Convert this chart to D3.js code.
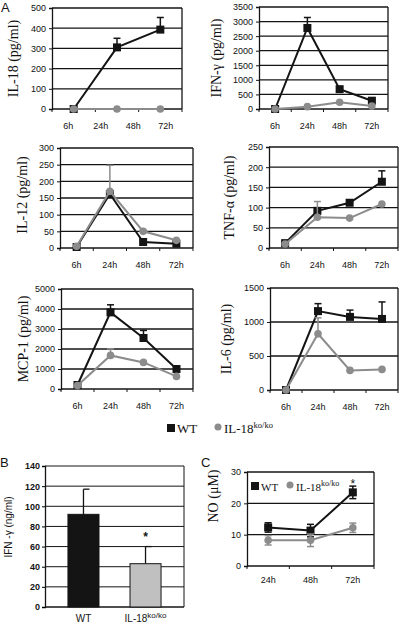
<!DOCTYPE html>
<html><head><meta charset="utf-8">
<script src="https://cdn.jsdelivr.net/npm/d3@7"></script>
<style>
html,body{margin:0;padding:0;background:#fff;}
svg{display:block;}
.tk{font-family:"Liberation Sans Narrow","Arial Narrow","Liberation Sans",Arial,sans-serif;font-size:9px;fill:#111;}
.ttl{font-family:"Liberation Serif","Times New Roman",serif;font-size:14px;fill:#111;}
.lg{font-family:"Liberation Serif","Times New Roman",serif;fill:#111;}
.lg tspan{fill:#111;}
</style></head><body>
<svg id="c" width="400" height="624"></svg>
<script>
// ---------- DATA ----------
const timeLabels = ["6h", "24h", "48h", "72h"];
const il18Times = ["6h", "24h", "48h"];
const noTimes = ["24h", "48h", "72h"];

const il18WT = [0, 305, 393];      const il18WTerr = [0, 45, 60];
const il18KO = [0, 0, 0];          const il18KOerr = [0, 0, 0];
const il18Ticks = [0, 100, 200, 300, 400, 500];

const ifnWT = [0, 2780, 680, 285]; const ifnWTerr = [0, 360, 40, 40];
const ifnKO = [0, 80, 230, 100];   const ifnKOerr = [0, 0, 0, 0];
const ifnTicks = [0, 500, 1000, 1500, 2000, 2500, 3000, 3500];

const il12WT = [3, 162, 18, 13];   const il12WTerr = [0, 0, 0, 0];
const il12KO = [5, 170, 50, 23];   const il12KOerr = [0, 78, 5, 0];
const il12Ticks = [0, 50, 100, 150, 200, 250, 300];

const tnfWT = [12, 92, 112, 164];  const tnfWTerr = [0, 0, 0, 27];
const tnfKO = [10, 76, 74, 109];   const tnfKOerr = [0, 39, 0, 0];
const tnfTicks = [0, 50, 100, 150, 200, 250];

const mcpWT = [200, 3830, 2550, 1000]; const mcpWTerr = [0, 380, 380, 60];
const mcpKO = [170, 1680, 1330, 630];  const mcpKOerr = [0, 330, 0, 0];
const mcpTicks = [0, 1000, 2000, 3000, 4000, 5000];

const il6WT = [0, 1160, 1075, 1045];   const il6WTerr = [0, 110, 100, 250];
const il6KO = [0, 826, 288, 303];      const il6KOerr = [0, 235, 0, 0];
const il6Ticks = [0, 500, 1000, 1500];

const barGroups = ["WT", "IL-18ko/ko"];
const barValues = [92, 43];
const barErr = [25, 17];
const barTicks = [0, 20, 40, 60, 80, 100, 120, 140];

const noWT = [12.3, 11.3, 23.5];  const noWTerr = [1.5, 2, 2];
const noKO = [8.2, 8.2, 12.2];    const noKOerr = [1.5, 2, 1.5];
const noTicks = [0, 10, 20, 30];

// ---------- STYLE ----------
const BLACK = "#141414", GRAY = "#8c8c8c", LIGHT = "#c0c0c0";
const svg = d3.select("#c");

function makeSeries(times, vals, errs) {
  return times.map((t, i) => ({t, v: vals[i], e: errs[i]}));
}

function linePanel(o) {
  const g = svg.append("g");
  const x = d3.scaleBand().domain(o.times).range([o.x0, o.x1]);
  const xl = d3.scaleBand().domain(o.labels).range([o.x0, o.x1]);
  const y = d3.scaleLinear().domain([0, o.ticks[o.ticks.length - 1]]).range([o.y1, o.y0]);
  g.selectAll("line.grid").data(o.ticks.filter(t => t > 0)).join("line")
    .attr("x1", o.x0).attr("x2", o.x1).attr("y1", d => y(d)).attr("y2", d => y(d))
    .attr("stroke", BLACK).attr("stroke-width", 1.3);
  g.append("line").attr("x1", o.x1).attr("x2", o.x1).attr("y1", y(o.ticks[o.ticks.length-1])).attr("y2", o.y1)
    .attr("stroke", BLACK).attr("stroke-width", 1.3);
  const ya = g.append("g").attr("transform", `translate(${o.x0},0)`)
    .call(d3.axisLeft(y).tickValues(o.ticks).tickSize(3).tickPadding(3).tickFormat(d3.format("d")));
  ya.select(".domain").attr("stroke", BLACK).attr("stroke-width", 1.3);
  ya.selectAll(".tick line").attr("stroke", BLACK);
  ya.selectAll("text").attr("class", "tk").attr("font-size", null).attr("font-family", null);
  ya.attr("font-size", null).attr("font-family", null);
  const bounds = x.domain().map(d => x(d)).concat([o.x1]);
  g.append("line").attr("x1", o.x0).attr("x2", o.x1).attr("y1", o.y1).attr("y2", o.y1)
    .attr("stroke", BLACK).attr("stroke-width", 1.3);
  g.selectAll("line.xt").data(bounds).join("line")
    .attr("x1", d => d).attr("x2", d => d).attr("y1", o.y1).attr("y2", o.y1 + 3)
    .attr("stroke", BLACK).attr("stroke-width", 1);
  g.selectAll("text.xl").data(o.labels).join("text").attr("class", "tk xlab")
    .attr("x", d => xl(d) + xl.bandwidth() / 2).attr("y", o.y1 + (o.labdy || 20))
    .attr("text-anchor", "middle").text(d => d);
  g.append("text").attr("class", "ttl")
    .attr("transform", `translate(${o.tx},${(o.y0 + o.y1) / 2 + (o.tdy || 0)}) rotate(-90)`)
    .attr("text-anchor", "middle").attr("dominant-baseline", "middle").text(o.title);
  const cx = d => x(d.t) + x.bandwidth() / 2;
  o.series.forEach(s => {
    const col = s.kind === "wt" ? BLACK : GRAY;
    const data = s.data;
    g.append("path").datum(data)
      .attr("d", d3.line().x(cx).y(d => y(d.v)))
      .attr("fill", "none").attr("stroke", col).attr("stroke-width", 2);
    const eb = data.filter(d => d.e > 0);
    g.selectAll(null).data(eb).join("line")
      .attr("x1", cx).attr("x2", cx).attr("y1", d => y(d.v + d.e)).attr("y2", d => o.both ? y(d.v - d.e) : y(d.v))
      .attr("stroke", col).attr("stroke-width", 1.5);
    g.selectAll(null).data(eb).join("line")
      .attr("x1", d => cx(d) - 3.5).attr("x2", d => cx(d) + 3.5).attr("y1", d => y(d.v + d.e)).attr("y2", d => y(d.v + d.e))
      .attr("stroke", col).attr("stroke-width", 1.5);
    if (o.both) {
      g.selectAll(null).data(eb).join("line")
        .attr("x1", d => cx(d) - 3.5).attr("x2", d => cx(d) + 3.5).attr("y1", d => y(d.v - d.e)).attr("y2", d => y(d.v - d.e))
        .attr("stroke", col).attr("stroke-width", 1.5);
    }
    if (s.kind === "wt") {
      g.selectAll(null).data(data).join("rect")
        .attr("x", d => cx(d) - 4).attr("y", d => y(d.v) - 4).attr("width", 8).attr("height", 8).attr("fill", BLACK);
    } else {
      g.selectAll(null).data(data).join("circle")
        .attr("cx", cx).attr("cy", d => y(d.v)).attr("r", 3.8).attr("fill", GRAY);
    }
  });
  return {g, x, y};
}

function panelA(cfg, wt, wte, ko, koe, times) {
  cfg.labels = timeLabels;
  cfg.times = times || timeLabels;
  cfg.series = [
    {kind: "wt", data: makeSeries(cfg.times, wt, wte)},
    {kind: "ko", data: makeSeries(cfg.times, ko, koe)}
  ];
  return linePanel(cfg);
}
panelA({x0: 52, x1: 182, y0: 8, y1: 109, ticks: il18Ticks, title: "IL-18 (pg/ml)", tx: 15}, il18WT, il18WTerr, il18KO, il18KOerr, il18Times);
panelA({x0: 259, x1: 388, y0: 7, y1: 109, ticks: ifnTicks, title: "IFN-γ (pg/ml)", tx: 218}, ifnWT, ifnWTerr, ifnKO, ifnKOerr);
panelA({x0: 60, x1: 193, y0: 148, y1: 248, ticks: il12Ticks, title: "IL-12 (pg/ml)", tx: 24, tdy: -3}, il12WT, il12WTerr, il12KO, il12KOerr);
panelA({x0: 269, x1: 398, y0: 147, y1: 248, ticks: tnfTicks, title: "TNF-α (pg/ml)", tx: 231}, tnfWT, tnfWTerr, tnfKO, tnfKOerr);
panelA({x0: 61, x1: 193, y0: 289, y1: 389, ticks: mcpTicks, title: "MCP-1 (pg/ml)", tx: 25}, mcpWT, mcpWTerr, mcpKO, mcpKOerr);
panelA({x0: 270, x1: 398, y0: 288, y1: 390, ticks: il6Ticks, title: "IL-6  (pg/ml)", tx: 228}, il6WT, il6WTerr, il6KO, il6KOerr);

function legend(xs, yc, fs, sup, gap) {
  svg.append("rect").attr("x", xs - 4).attr("y", yc - 5).attr("width", 8).attr("height", 8).attr("fill", BLACK);
  svg.append("text").attr("class", "lg").attr("x", xs + 6).attr("y", yc + 4).attr("font-size", fs).attr("fill", BLACK).text("WT");
  const cx2 = xs + gap;
  svg.append("circle").attr("cx", cx2).attr("cy", yc - 2).attr("r", 3.5).attr("fill", GRAY);
  const t = svg.append("text").attr("class", "lg").attr("x", cx2 + 6).attr("y", yc + 4).attr("font-size", fs).attr("fill", BLACK);
  t.append("tspan").attr("fill", BLACK).text("IL-18");
  t.append("tspan").attr("fill", BLACK).attr("font-size", sup).attr("dy", -5).text("ko/ko");
}
legend(171, 429, 13, 8.5, 47);

const letterFont = "Liberation Sans, Arial, sans-serif";
svg.append("text").attr("x", 1).attr("y", 12).attr("font-family", letterFont).attr("font-size", 13).attr("fill", BLACK).text("A");
svg.append("text").attr("x", 0).attr("y", 467).attr("font-family", letterFont).attr("font-size", 13).attr("fill", BLACK).text("B");
svg.append("text").attr("x", 201).attr("y", 467).attr("font-family", letterFont).attr("font-size", 13).attr("fill", BLACK).text("C");

// ---------- PANEL B ----------
(function () {
  const x0 = 45, x1 = 184, y0 = 466, y1 = 607;
  const g = svg.append("g");
  const x = d3.scaleBand().domain(barGroups).range([x0, x1]).paddingInner(0.5).paddingOuter(0.37);
  const y = d3.scaleLinear().domain([0, barTicks[barTicks.length - 1]]).range([y1, y0]);
  g.selectAll(null).data(barTicks.filter(t => t > 0)).join("line")
    .attr("x1", x0).attr("x2", x1).attr("y1", d => y(d)).attr("y2", d => y(d)).attr("stroke", BLACK).attr("stroke-width", 1);
  g.append("line").attr("x1", x1).attr("x2", x1).attr("y1", y0).attr("y2", y1).attr("stroke", BLACK).attr("stroke-width", 1);
  const ya = g.append("g").attr("transform", `translate(${x0},0)`)
    .call(d3.axisLeft(y).tickValues(barTicks).tickSize(3).tickPadding(2));
  ya.attr("font-size", null).attr("font-family", null);
  ya.select(".domain").attr("stroke", BLACK).attr("stroke-width", 1.3);
  ya.selectAll("text").attr("font-family", letterFont).attr("font-size", 9).attr("font-weight", "bold").attr("fill", BLACK);
  g.append("line").attr("x1", x0).attr("x2", x1).attr("y1", y1).attr("y2", y1).attr("stroke", BLACK).attr("stroke-width", 1.3);
  const rows = barGroups.map((k, i) => ({k, v: barValues[i], e: barErr[i], i}));
  const cx = d => x(d.k) + x.bandwidth() / 2;
  g.selectAll(null).data(rows).join("line")
    .attr("x1", cx).attr("x2", cx).attr("y1", d => y(d.v)).attr("y2", d => y(d.v + d.e)).attr("stroke", BLACK).attr("stroke-width", 1.3);
  g.selectAll(null).data(rows).join("line")
    .attr("x1", d => cx(d)).attr("x2", d => cx(d) + 6).attr("y1", d => y(d.v + d.e)).attr("y2", d => y(d.v + d.e)).attr("stroke", BLACK).attr("stroke-width", 1.3);
  g.selectAll(null).data(rows).join("rect")
    .attr("x", d => x(d.k)).attr("y", d => y(d.v)).attr("width", x.bandwidth()).attr("height", d => y1 - y(d.v))
    .attr("fill", d => d.i === 0 ? BLACK : LIGHT).attr("stroke", BLACK).attr("stroke-width", 1);
  g.append("text").attr("x", cx(rows[1])).attr("y", y(rows[1].v + rows[1].e) - 6).attr("text-anchor", "middle")
    .attr("font-family", letterFont).attr("font-size", 12).attr("font-weight", "bold").attr("fill", BLACK).text("*");
  const xl = g.selectAll(null).data(rows).join("text").attr("x", cx).attr("y", 622).attr("text-anchor", "middle")
    .attr("font-family", letterFont).attr("font-size", 10).attr("fill", BLACK);
  xl.each(function (d) {
    const t = d3.select(this);
    if (d.i === 0) t.text(d.k);
    else { t.append("tspan").text("IL-18"); t.append("tspan").attr("font-size", 8).attr("dy", -4).text("ko/ko"); }
  });
  g.append("text").attr("transform", `translate(9,527) rotate(-90)`).attr("text-anchor", "middle").attr("dominant-baseline", "middle")
    .attr("font-family", letterFont).attr("font-size", 10).attr("fill", BLACK).text("IFN -γ (ng/ml)");
})();

// ---------- PANEL C ----------
(function () {
  const p = linePanel({x0: 247, x1: 374, y0: 472, y1: 566, ticks: noTicks, title: "NO (μM)", tx: 215, tdy: -23,
    labels: noTimes, times: noTimes, both: true, labdy: 17,
    series: [{kind: "wt", data: makeSeries(noTimes, noWT, noWTerr)}, {kind: "ko", data: makeSeries(noTimes, noKO, noKOerr)}]});
  p.g.selectAll(".tick text").attr("font-size", 11);
  p.g.select(".ttl").attr("font-size", 12);
  svg.append("text").attr("x", p.x(noTimes[2]) + p.x.bandwidth() / 2).attr("y", p.y(noWT[2] + noWTerr[2]) + 2).attr("text-anchor", "middle")
    .attr("font-family", letterFont).attr("font-size", 12).attr("fill", BLACK).text("*");
  legend(255, 487, 11, 8, 35);
})();
</script></body></html>
